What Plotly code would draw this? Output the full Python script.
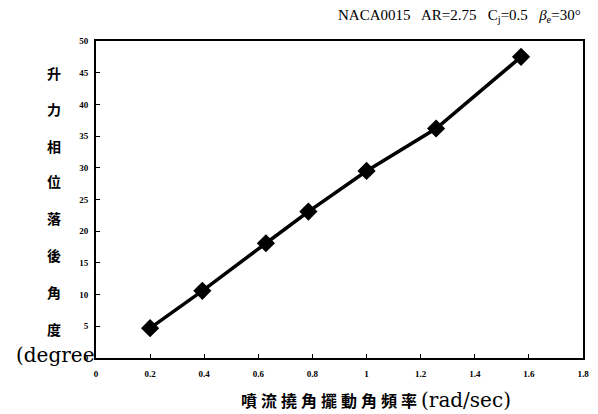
import plotly.graph_objects as go

freq = [0.2, 0.393, 0.628, 0.785, 1.0, 1.257, 1.571]
phase_lag = [4.7, 10.6, 18.1, 23.1, 29.5, 36.2, 47.5]
x_ticks = [0, 0.2, 0.4, 0.6, 0.8, 1, 1.2, 1.4, 1.6, 1.8]
x_tick_text = ["0", "0.2", "0.4", "0.6", "0.8", "1", "1.2", "1.4", "1.6", "1.8"]
y_ticks = [0, 5, 10, 15, 20, 25, 30, 35, 40, 45, 50]
y_label_chars = ["升", "力", "相", "位", "落", "後", "角", "度"]
y_label_pos = [45, 39.2, 33.5, 27.9, 22.1, 16.3, 10.4, 4.5]
x_title_chars = ["噴", "流", "撓", "角", "擺", "動", "角", "頻", "率"]

num_font = dict(family="Liberation Serif", size=9, color="black", weight="bold")
cjk = "Noto Sans CJK TC"

fig = go.Figure()
fig.add_trace(go.Scatter(
    x=freq, y=phase_lag, mode="lines+markers",
    line=dict(color="black", width=3.5),
    marker=dict(symbol="diamond", size=14, color="black"),
    showlegend=False, cliponaxis=False,
))

fig.update_xaxes(range=[0, 1.8], tickvals=x_ticks, ticktext=x_tick_text,
                 ticks="inside", ticklen=4, tickcolor="black",
                 showline=True, linecolor="black", linewidth=2, mirror=True,
                 showgrid=False, zeroline=False, tickfont=num_font, ticklabelstandoff=6)
fig.update_yaxes(range=[0, 50], tickvals=y_ticks,
                 ticks="inside", ticklen=4, tickcolor="black",
                 showline=True, linecolor="black", linewidth=2, mirror=True,
                 showgrid=False, zeroline=False, tickfont=num_font, ticklabelstandoff=4)

annotations = []
for ch, yy in zip(y_label_chars, y_label_pos):
    annotations.append(dict(text="<b>" + ch + "</b>", x=-0.105, xref="paper", y=yy, yref="y",
                            showarrow=False, font=dict(family=cjk, size=14, color="black")))
annotations.append(dict(text="(degree", x=0.0, xref="paper", xanchor="right",
                        y=0.4, yref="y", yanchor="middle", showarrow=False,
                        font=dict(family="DejaVu Serif", size=20, color="black")))
annotations.append(dict(
    text="<b>" + " ".join(x_title_chars) + "</b> <span style='font-family:DejaVu Serif;font-size:20px'>(rad/sec)</span>",
    x=0.575, xref="paper", y=-0.1325, yref="paper", yanchor="middle", showarrow=False,
    font=dict(family="Liberation Serif, " + cjk, size=16, color="black")))
annotations.append(dict(text="NACA0015   AR=2.75   C<sub>j</sub>=0.5   <i>β</i><sub>e</sub>=30°",
                        x=1.0, xref="paper", xanchor="right", y=1.045, yref="paper",
                        yanchor="bottom", showarrow=False,
                        font=dict(family="Liberation Serif", size=15, color="black")))

fig.update_layout(
    width=590, height=406,
    margin=dict(l=88, r=9, t=33, b=56),
    paper_bgcolor="white", plot_bgcolor="white",
    annotations=annotations,
)
fig.write_html("out.html")
